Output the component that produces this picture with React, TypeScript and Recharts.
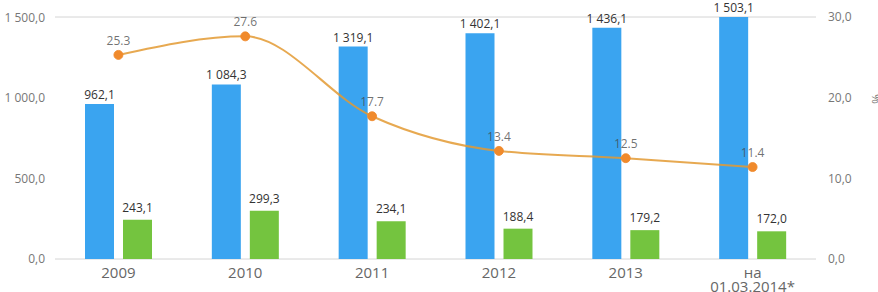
import {
  ComposedChart,
  Bar,
  Line,
  XAxis,
  YAxis,
  CartesianGrid,
  LabelList,
} from 'recharts';

const categories = ['2009', '2010', '2011', '2012', '2013', 'на|01.03.2014*'];
const totalValues = [962.1, 1084.3, 1319.1, 1402.1, 1436.1, 1503.1];
const secondValues = [243.1, 299.3, 234.1, 188.4, 179.2, 172.0];
const shareValues = [25.3, 27.6, 17.7, 13.4, 12.5, 11.4];
const leftTicks = [0, 500, 1000, 1500];
const rightTicks = [0, 10, 20, 30];

const data = categories.map((name, i) => ({
  name,
  total: totalValues[i],
  second: secondValues[i],
  share: shareValues[i],
}));

// 1 084,3 style, non-breaking space so labels don't wrap
const fmt = (v: number) => {
  const [int, dec] = v.toFixed(1).split('.');
  return int.replace(/\B(?=(\d{3})+(?!\d))/g, '\u00a0') + ',' + dec;
};

const font = "'Open Sans', 'DejaVu Sans', sans-serif";

function XTick(props: any) {
  const { x, y, payload } = props;
  const lines = String(payload.value).split('|');
  return (
    <text x={x} y={y} textAnchor="middle" fill="#666" fontSize={15} fontFamily={font}>
      {lines.map((l, i) => (
        <tspan key={i} x={x} dy={i === 0 ? 11 : 14}>
          {l}
        </tspan>
      ))}
    </text>
  );
}

function PercentLabel() {
  return (
    <text
      x={872}
      y={99}
      transform="rotate(90 872 99)"
      textAnchor="middle"
      fill="#777"
      fontSize={12}
      fontFamily={font}
    >
      %
    </text>
  );
}

export default function App() {
  return (
    <div style={{ position: 'absolute', left: 0, top: 0, background: '#fff' }}>
      <ComposedChart
        width={878}
        height={292}
        data={data}
        margin={{ top: 17, right: 0, bottom: 0, left: 0 }}
        barGap={9}
        barCategoryGap="23%"
      >
        <CartesianGrid vertical={false} stroke="#d4d4d4" />
        <XAxis
          dataKey="name"
          tick={<XTick />}
          tickLine={false}
          axisLine={false}
          interval={0}
          height={33}
        />
        <YAxis
          yAxisId="left"
          domain={[0, 1500]}
          ticks={leftTicks}
          tickFormatter={fmt}
          width={55}
          tickSize={0}
          tickMargin={10}
          axisLine={false}
          tick={{ fill: '#777', fontSize: 12, fontFamily: font }}
        />
        <YAxis
          yAxisId="right"
          orientation="right"
          domain={[0, 30]}
          ticks={rightTicks}
          tickFormatter={fmt}
          width={62}
          tickSize={0}
          tickMargin={12}
          axisLine={false}
          tick={{ fill: '#777', fontSize: 12, fontFamily: font }}
          label={<PercentLabel />}
        />
        <Bar yAxisId="left" dataKey="total" fill="#3aa4f0" barSize={29} isAnimationActive={false}>
          <LabelList
            dataKey="total"
            position="top"
            formatter={(v: any) => fmt(Number(v))}
            fill="#333"
            fontSize={12}
            fontFamily={font}
          />
        </Bar>
        <Bar yAxisId="left" dataKey="second" fill="#74c43f" barSize={29} isAnimationActive={false}>
          <LabelList
            dataKey="second"
            position="top"
            offset={8}
            formatter={(v: any) => fmt(Number(v))}
            fill="#333"
            fontSize={12}
            fontFamily={font}
          />
        </Bar>
        <Line
          yAxisId="right"
          type="monotone"
          dataKey="share"
          stroke="#e39a32"
          strokeOpacity={0.85}
          strokeWidth={2}
          dot={{ r: 4.5, fill: '#f08a2c', stroke: '#f08a2c', strokeWidth: 1 }}
          isAnimationActive={false}
        >
          <LabelList
            dataKey="share"
            position="top"
            offset={10}
            formatter={(v: any) => Number(v).toFixed(1)}
            fill="#444"
            fillOpacity={0.75}
            fontSize={12}
            fontFamily={font}
          />
        </Line>
      </ComposedChart>
    </div>
  );
}
